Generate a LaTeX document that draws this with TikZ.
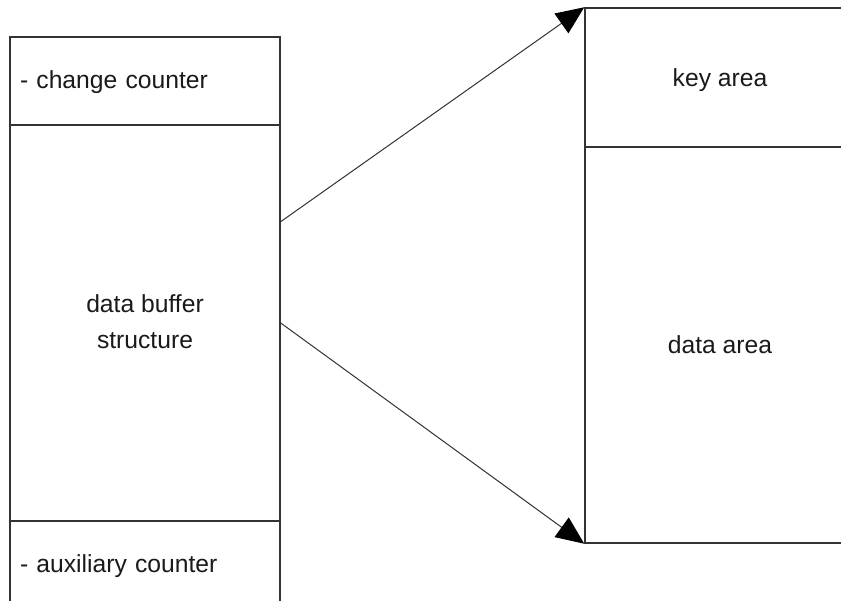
\documentclass[tikz,border=0pt]{standalone}
\usepackage{fontspec}
\setmainfont{Liberation Sans}
\usetikzlibrary{arrows.meta,calc}
\definecolor{linec}{HTML}{333333}
\definecolor{textc}{HTML}{1A1A1A}
\begin{document}
\begin{tikzpicture}[x=0.75pt,y=-0.75pt,
  section/.style={draw=linec,line width=1.1pt,rectangle,inner sep=0pt,
    minimum width=202.5pt,text=textc,font=\fontsize{18.5}{27}\selectfont},
  leftsec/.style={section,text width=187.5pt,align=left,inner xsep=7.5pt},
  censec/.style={section,align=center},
  link/.style={draw=linec,line width=0.75pt,-{Triangle[length=21pt,width=18pt,color=black]}}]
\clip (0,0) rectangle (841,600);
\fill[white] (0,0) rectangle (841,600);
\node[leftsec,minimum height=66pt,text depth=1.5pt] (ltop) at (145,81) {- change counter};
\node[censec,minimum height=297pt,text depth=1.5pt] (lmid) at (145,323) {data buffer\\structure};
\node[leftsec,minimum height=66pt,text depth=1.5pt] (lbot) at (145,565) {- auxiliary counter};
\node[censec,minimum height=104.25pt,text depth=0pt] (rtop) at (720,77.5) {key area};
\node[censec,minimum height=297pt,text depth=0pt] (rbot) at (720,345) {data area};
\draw[link] ($(lmid.north east)!0.245!(lmid.south east)$) -- (rtop.north west);
\draw[link] (lmid.east) -- (rbot.south west);
\end{tikzpicture}
\end{document}
